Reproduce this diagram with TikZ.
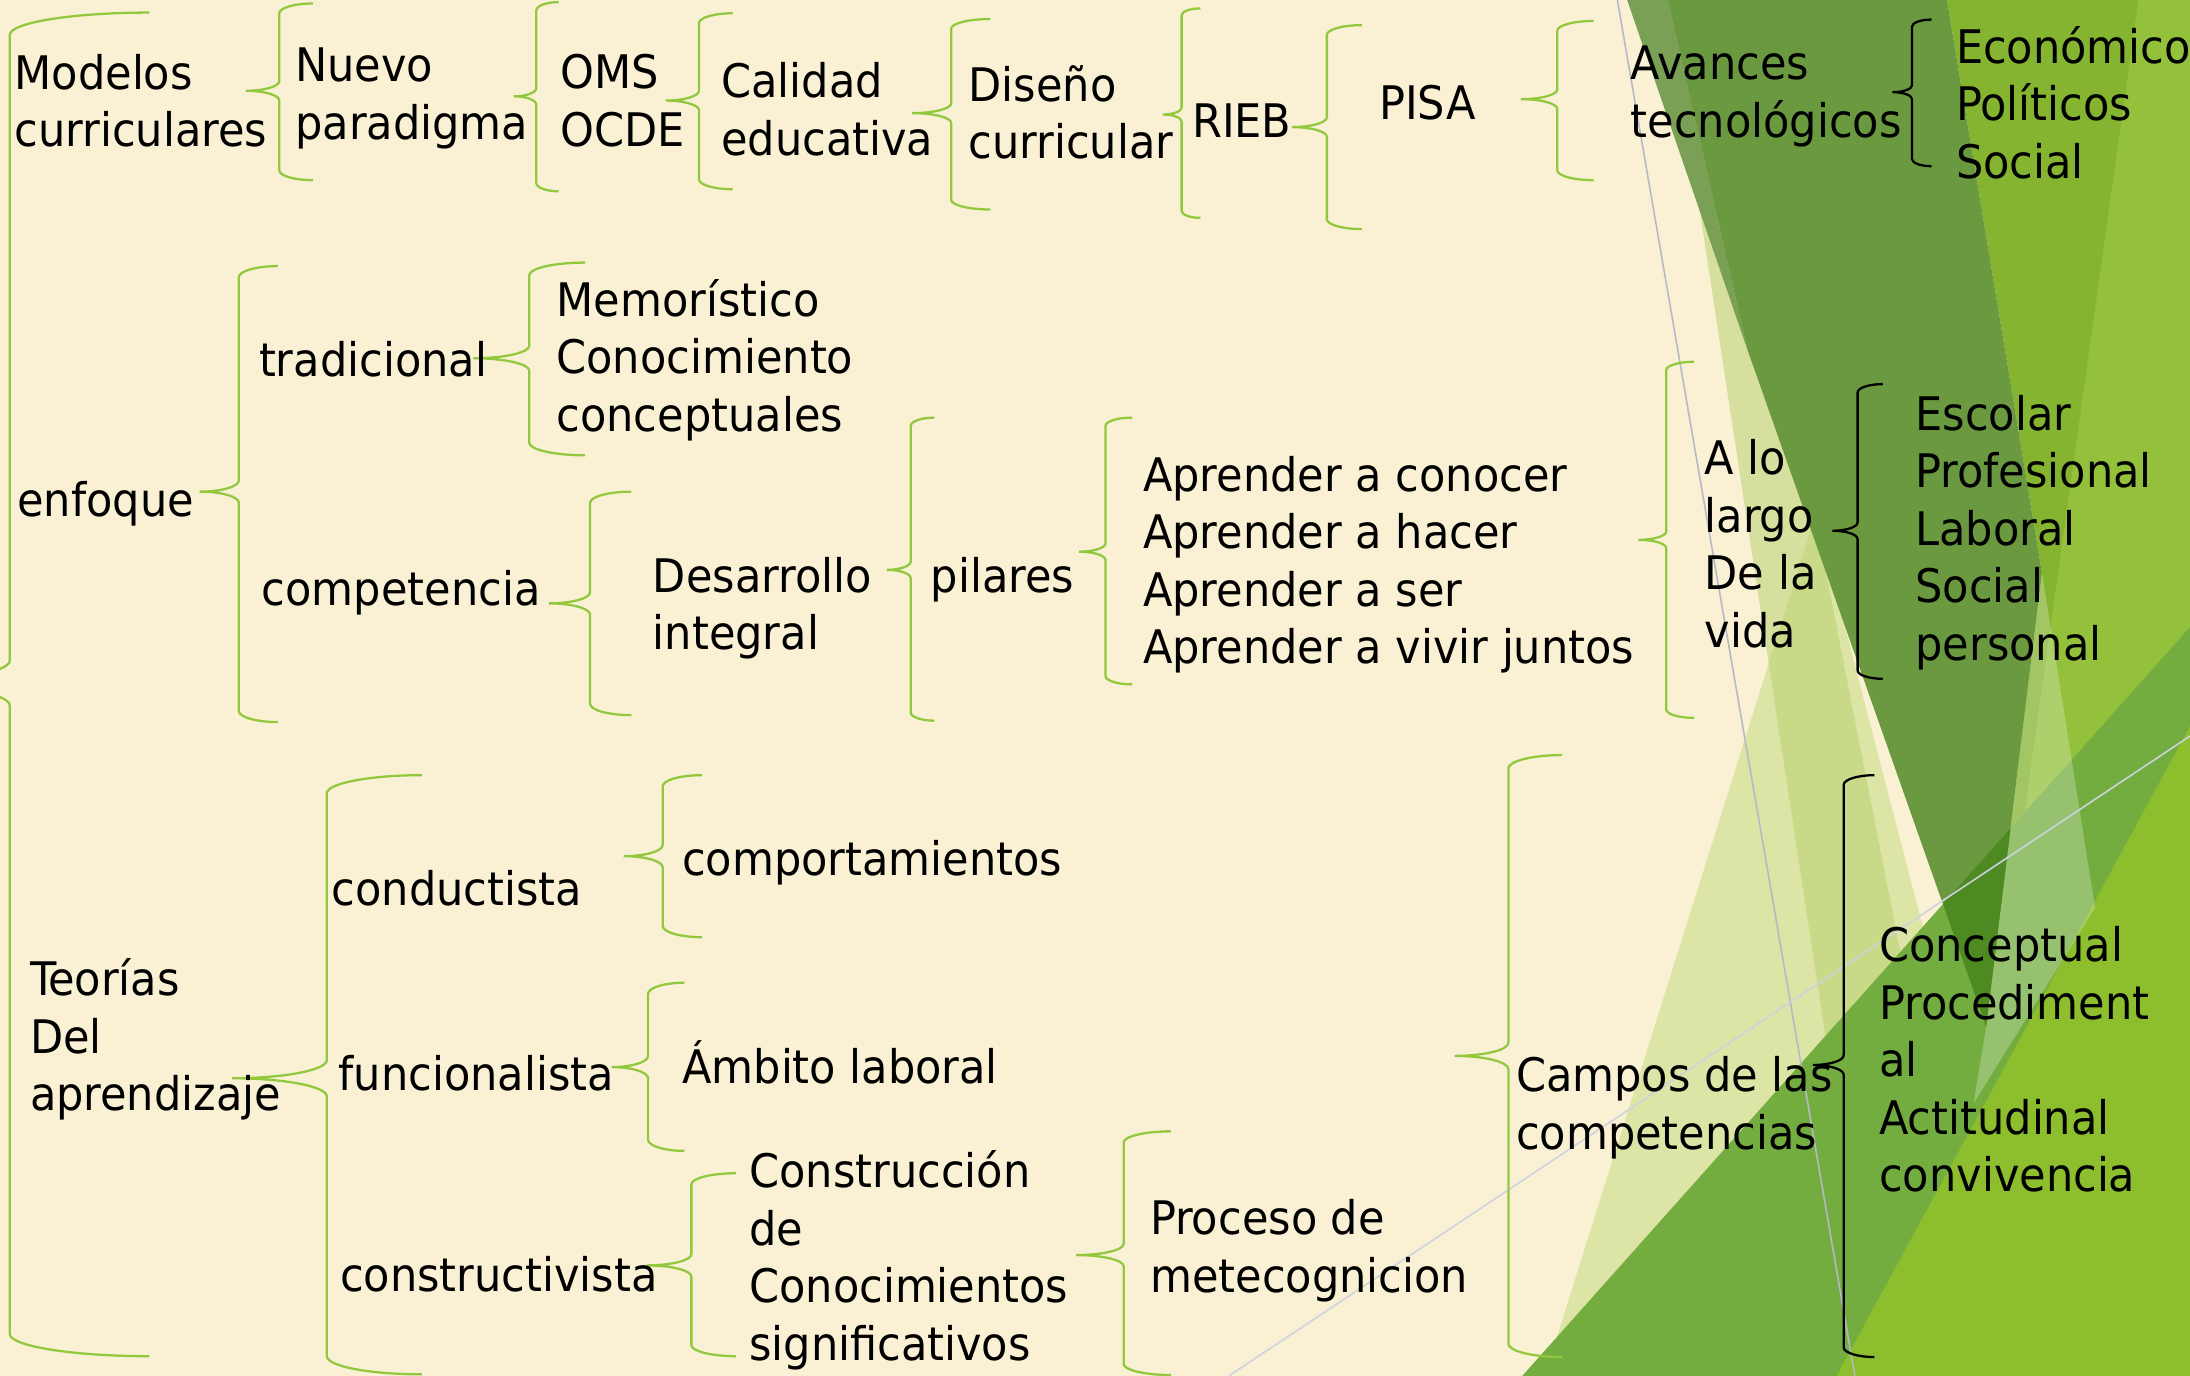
\documentclass[tikz,border=0pt]{standalone}
\usepackage{fontspec}
\setmainfont[FakeStretch=1.035]{DejaVu Sans Condensed}
\usepackage{tikz}

\definecolor{cream}{RGB}{250,241,213}
\definecolor{leafgreen}{RGB}{146,200,62}
\definecolor{olive}{RGB}{106,153,63}
\definecolor{oliveband}{RGB}{122,160,86}
\definecolor{deepgreen}{RGB}{77,138,34}
\definecolor{grassgreen}{RGB}{132,180,48}
\definecolor{limegreen}{RGB}{147,193,60}
\definecolor{palegreen}{RGB}{220,228,166}
\definecolor{palemid}{RGB}{181,207,106}
\definecolor{midgreen}{RGB}{116,173,63}
\definecolor{brightgreen}{RGB}{140,190,45}
\definecolor{hairgrey}{RGB}{180,185,200}
\definecolor{hairblue}{RGB}{205,211,221}

% curly brace: [style]{x of stem}{half width}{top}{tip}{bottom}{bend}
\newcommand{\cbr}[7][brc]{%
  \draw[#1] ({#2+#3},#4) .. controls ({#2+0.45*#3},#4) and (#2,{#4+0.45*#7}) .. (#2,{#4+#7})
    -- (#2,{#5-#7}) .. controls (#2,{#5-0.45*#7}) and ({#2-0.45*#3},#5) .. ({#2-#3},#5)
    .. controls ({#2-0.45*#3},#5) and (#2,{#5+0.45*#7}) .. (#2,{#5+#7})
    -- (#2,{#6-#7}) .. controls (#2,{#6-0.45*#7}) and ({#2+0.45*#3},#6) .. ({#2+#3},#6);}

\begin{document}
\begin{tikzpicture}[x=0.014cm,y=-0.014cm]
  \tikzset{brc/.style={draw=leafgreen,line width=0.65pt},
           blk/.style={draw=black,line width=0.65pt},
           txt/.style={anchor=north west,inner sep=0pt,align=left,
             font=\fontsize{13.2}{16.4}\selectfont,
             execute at begin node={\vrule height 13pt width 0pt}}}

  \useasboundingbox (0,0) rectangle (1568,985);
  \clip (0,0) rectangle (1568,985);
  \fill[cream] (0,0) rectangle (1568,985);

  % facets on the right
  \fill[palegreen] (1106,985) -- (1300,368) -- (1460,985) -- cycle;
  \fill[palemid,opacity=0.5] (1194,0) -- (1227,0) -- (1420,985) -- (1344,985) -- cycle;
  \fill[grassgreen] (1394,0) -- (1568,0) -- (1568,985) -- (1422,735) -- (1462,410) -- cycle;
  \fill[limegreen] (1531,0) -- (1568,0) -- (1568,985) -- (1443,628) -- cycle;
  \fill[midgreen] (1090,985) -- (1568,449) -- (1568,985) -- cycle;
  \fill[brightgreen] (1315,985) -- (1568,520) -- (1568,985) -- cycle;
  \fill[white,opacity=0.25] (1462,410) -- (1500,650) -- (1413,790) -- (1422,735) -- cycle;
  \fill[oliveband] (1165,0) -- (1194,0) -- (1251,250) -- cycle;
  \fill[olive] (1194,0) -- (1394,0) -- (1462,410) -- (1422,735) -- (1251,250) -- cycle;
  \begin{scope}
    \clip (1090,985) -- (1568,449) -- (1568,985) -- cycle;
    \fill[deepgreen] (1165,0) -- (1394,0) -- (1462,410) -- (1422,735) -- cycle;
  \end{scope}
  \draw[hairgrey,line width=0.45pt] (1158,0) -- (1328,985);
  \draw[hairblue,line width=0.45pt] (880,985) -- (1568,527);

  % braces
  \cbr{7}{100}{9}{489}{971}{16}
  \cbr{200}{24}{2.5}{65}{129}{7}
  \cbr{384}{16}{1.5}{69}{137}{6}
  \cbr{500.5}{24}{9.5}{72}{135.5}{7}
  \cbr{681}{28}{13.6}{81}{150}{7}
  \cbr{846}{13.5}{6}{82}{156}{5}
  \cbr{950}{25}{18}{91}{164}{7}
  \cbr{1115}{26}{15}{71}{129}{7}
  \cbr[blk]{1369}{14}{14}{66}{119}{5}
  \cbr{171}{28}{190.5}{352}{517}{8}
  \cbr{379}{40}{188}{256.5}{326}{9}
  \cbr{422.5}{29.5}{352}{432}{512}{8}
  \cbr{652}{17}{299}{408}{516}{6}
  \cbr{791.5}{19}{299}{395}{490}{6}
  \cbr{1193}{20}{259}{386.5}{514}{6}
  \cbr[blk]{1330}{18}{275}{380}{486}{6}
  \cbr{234}{68}{555}{772}{984}{13}
  \cbr{474.5}{28}{555}{613}{671}{8}
  \cbr{464}{26}{703.6}{764}{824}{8}
  \cbr{495}{32}{840}{906}{971}{8}
  \cbr{804.5}{34}{810}{898.6}{984.5}{8}
  \cbr{1080}{38.5}{540.6}{756}{971.6}{9.5}
  \cbr[blk]{1320}{22}{555}{762.5}{971.6}{7}

  % first row
  \node (mc) [txt] at (10,38.4) {Modelos\\curriculares};
  \node (np) [txt] at (211,34) {Nuevo\\paradigma};
  \node (oms) [txt] at (401,38.4) {OMS\\OCDE};
  \node (cal) [txt] at (516,44.4) {Calidad\\educativa};
  \node (dis) [txt] at (693,46.4) {Diseño\\curricular};
  \node (rieb) [txt] at (853,65.4) {RIEB};
  \node (pisa) [txt] at (987,52.4) {PISA};
  \node (avt) [txt] at (1167,32.4) {Avances\\tecnológicos};
  \node (eco) [txt] at (1400,18.4) {Económico\\Políticos\\Social};
  % second row
  \node (enf) [txt] at (12,336.4) {enfoque};
  \node (trad) [txt] at (185,236.4) {tradicional};
  \node (memo) [txt] at (398,199.4) {Memorístico\\Conocimiento\\conceptuales};
  \node (comp) [txt] at (187,400.4) {competencia};
  \node (des) [txt] at (467,398.4) {Desarrollo\\integral};
  \node (pil) [txt] at (666,391.4) {pilares};
  \node (apr) [txt] at (818,326) {Aprender a conocer\\Aprender a hacer\\Aprender a ser\\Aprender a vivir juntos};
  \node (alo) [txt] at (1220,314.4) {A lo\\largo\\De la\\vida};
  \node (esc) [txt] at (1371,282.4) {Escolar\\Profesional\\Laboral\\Social\\personal};
  % third row
  \node (teo) [txt] at (21,686) {Teorías\\Del\\aprendizaje};
  \node (cond) [txt] at (237,615.4) {conductista};
  \node (comport) [txt] at (488,593.4) {comportamientos};
  \node (func) [txt] at (242,747.4) {funcionalista};
  \node (amb) [txt] at (488,742.4) {Ámbito laboral};
  \node (constr) [txt] at (243,891.4) {constructivista};
  \node (conoc) [txt] at (536,823.4) {Construcción\\de\\Conocimientos\\significativos};
  \node (proc) [txt] at (823,858.4) {Proceso de\\metecognicion};
  \node (campos) [txt] at (1085,756) {Campos de las\\competencias};
  \node (concept) [txt] at (1345,663) {Conceptual\\Procediment\\al\\Actitudinal\\convivencia};
\end{tikzpicture}
\end{document}
